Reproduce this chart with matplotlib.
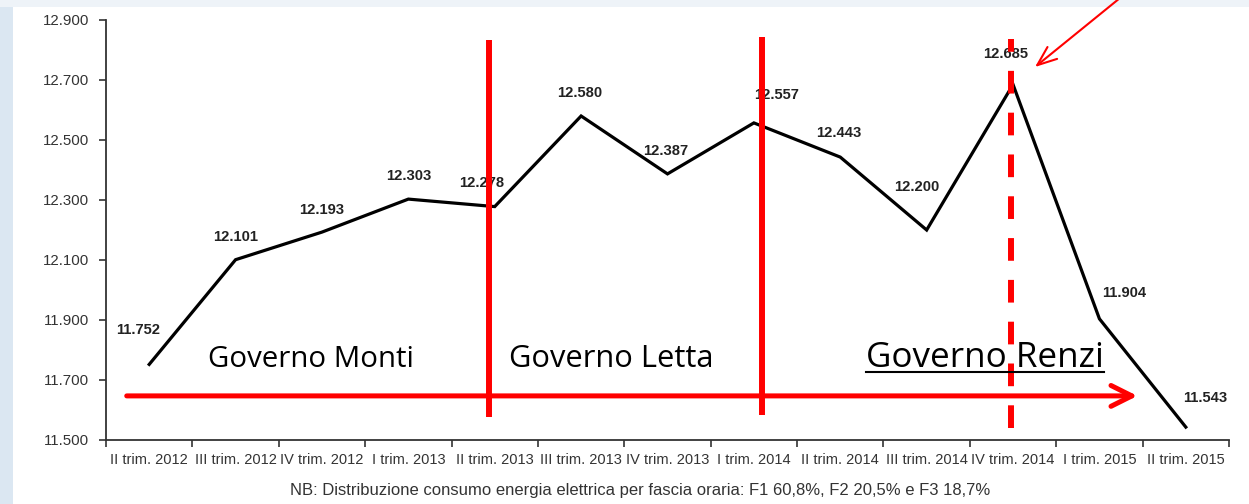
import matplotlib
matplotlib.use("Agg")
import matplotlib.pyplot as plt
from matplotlib.patches import Rectangle
from matplotlib.ticker import FuncFormatter, FixedLocator
from matplotlib import font_manager

# ---- data ----
categories = ["II trim. 2012", "III trim. 2012", "IV trim. 2012", "I trim. 2013",
              "II trim. 2013", "III trim. 2013", "IV trim. 2013", "I trim. 2014",
              "II trim. 2014", "III trim. 2014", "IV trim. 2014", "I trim. 2015",
              "II trim. 2015"]
values = [11752, 12101, 12193, 12303, 12278, 12580, 12387, 12557,
          12443, 12200, 12685, 11904, 11543]
y_ticks = [11500, 11700, 11900, 12100, 12300, 12500, 12700, 12900]
governi = ["Governo Monti", "Governo Letta", "Governo Renzi"]
footnote = "NB: Distribuzione consumo energia elettrica per fascia oraria: F1 60,8%, F2 20,5% e F3 18,7%"

# label offsets in pixels (dx right, dy up)
label_offsets = [(-11, 34), (0, 23), (0, 22), (0, 23), (-13, 24), (-1, 23), (-2, 23),
                 (23, 28), (-2, 24), (-10, 43), (-7, 30), (25, 26), (19, 29)]

def fmt_it(v, pos=None):
    return f"{int(round(v)):,}".replace(",", ".")

avail = {f.name for f in font_manager.fontManager.ttflist}
tick_font = "Liberation Sans Narrow" if "Liberation Sans Narrow" in avail else "Liberation Sans"
big_font = "Open Sans"

W, H = 1249, 504
fig = plt.figure(figsize=(W / 100, H / 100), dpi=100)
fig.patch.set_facecolor("white")

# background frame (light blue strips)
fig.add_artist(Rectangle((0, 0), 13 / W, 1, transform=fig.transFigure,
                         facecolor="#dbe7f2", edgecolor="none", zorder=0))
fig.add_artist(Rectangle((0, (H - 7) / H), 1, 7 / H, transform=fig.transFigure,
                         facecolor="#eef3f8", edgecolor="none", zorder=0))

x0, x1, ytop, ybot = 106, 1229, 20, 440
ax = fig.add_axes([x0 / W, (H - ybot) / H, (x1 - x0) / W, (ybot - ytop) / H])
ax.set_facecolor("none")

xs = list(range(len(values)))
ax.plot(xs, values, color="black", lw=2.3, zorder=3, solid_joinstyle="miter")

ax.set_xlim(-0.5, len(values) - 0.5)
ax.set_ylim(11500, 12900)

for s in ["top", "right"]:
    ax.spines[s].set_visible(False)
for s in ["left", "bottom"]:
    ax.spines[s].set_color("#333333")
    ax.spines[s].set_linewidth(1.3)

ax.set_yticks(y_ticks)
ax.yaxis.set_major_formatter(FuncFormatter(fmt_it))
ax.tick_params(axis="y", length=5, width=1.2, color="#333333", pad=7,
               labelsize=10.8, labelcolor="#333333")
for t in ax.get_yticklabels():
    t.set_fontfamily(tick_font)

ax.xaxis.set_major_locator(FixedLocator([i - 0.5 for i in range(len(values) + 1)]))
ax.xaxis.set_major_formatter(FuncFormatter(lambda v, p: ""))
ax.xaxis.set_minor_locator(FixedLocator(xs))
ax.set_xticklabels(categories, minor=True)
ax.tick_params(axis="x", which="minor", length=0, pad=9, labelsize=10.5,
               labelcolor="#333333")
ax.tick_params(axis="x", which="major", length=5, width=1.2, color="#333333")
for t in ax.get_xticklabels(minor=True):
    t.set_fontfamily(tick_font)

# data labels
for x, v, (dx, dy) in zip(xs, values, label_offsets):
    ax.annotate(fmt_it(v), (x, v), xytext=(dx * 0.72, dy * 0.72), textcoords="offset points",
                ha="center", va="center", fontsize=10.6, fontweight="bold",
                color="#222222", family="Liberation Sans", zorder=4)

red = "#ff0000"
# vertical government lines
ax.plot([3.93, 3.93], [11577, 12833], color=red, lw=4.3, zorder=5, solid_capstyle="butt")
ax.plot([7.09, 7.09], [11583, 12843], color=red, lw=4.3, zorder=5, solid_capstyle="butt")
ax.plot([9.98, 9.98], [11540, 12837], color=red, lw=4.3, zorder=5,
        linestyle=(0, (3.8, 3.2)), dash_capstyle="butt")

# horizontal timeline arrow
ax.annotate("", xy=(11.44, 11647), xytext=(-0.26, 11647),
            arrowprops=dict(arrowstyle="->,head_length=1.5,head_width=0.75",
                            color=red, lw=3.6, shrinkA=0, shrinkB=0), zorder=5)

# top-right pointer arrow
ax.annotate("", xy=(1035, H - 67), xycoords="figure pixels",
            xytext=(1120, H + 2), textcoords="figure pixels",
            arrowprops=dict(arrowstyle="->,head_length=1.4,head_width=0.55",
                            color=red, lw=1.5, shrinkA=0, shrinkB=0),
            annotation_clip=False)

# government labels
gov_x = [208, 509, 866]
gov_size = [21.2, 22.2, 25.2]
texts = []
for name, gx, gs in zip(governi, gov_x, gov_size):
    t = fig.text(gx / W, (H - 367) / H, name, ha="left", va="baseline",
                 fontsize=gs, family=big_font, color="black", zorder=6)
    texts.append(t)

fig.canvas.draw()
bb = texts[2].get_window_extent()
fig.add_artist(plt.Line2D([bb.x0 / W, bb.x1 / W], [(H - 372) / H, (H - 372) / H],
                          transform=fig.transFigure, color="black", lw=1.5, zorder=6))

fig.text(640 / W, (H - 490) / H, footnote, ha="center", va="center",
         fontsize=12, family=tick_font, color="#333333")

fig.savefig("out.png", dpi=100, facecolor="white")
